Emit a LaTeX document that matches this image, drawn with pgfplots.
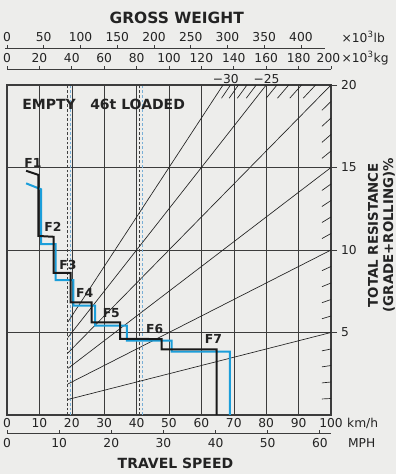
\documentclass[border=0pt]{standalone}
\usepackage{fontspec}
\setmainfont{DejaVu Sans}
\usepackage{pgfplots}
\pgfplotsset{compat=1.18}
\definecolor{bg}{RGB}{237,237,235}
\definecolor{cblue}{RGB}{27,158,218}
\definecolor{lblue}{RGB}{120,175,215}
\definecolor{gridc}{RGB}{60,60,60}
\definecolor{txt}{RGB}{35,35,35}
\newcommand{\tl}{\fontsize{9.2}{10}\selectfont}
\newcommand{\hd}{\fontsize{10.5}{12}\selectfont\bfseries}
\begin{document}
\begin{tikzpicture}
\path[use as bounding box, fill=bg] (0,0) rectangle (297pt,355.5pt);
\begin{axis}[
  at={(5.25pt,44.25pt)}, anchor=south west,
  scale only axis, width=243pt, height=247.5pt,
  xmin=0, xmax=100, ymin=0, ymax=20,
  clip=false,
  axis line style={gridc, line width=0.8pt},
  xtick={0,10,20,30,40,50,60,70,80,90,100}, xtick pos=bottom,
  x tick style={draw=none},
  ytick={5,10,15,20}, ytick pos=right, yticklabel pos=right,
  y tick style={gridc, line width=0.6pt},
  tick align=outside, major tick length=4.5pt,
  grid=major, major grid style={gridc, line width=0.45pt},
  ticklabel style={font=\tl, text=txt},
  xticklabel style={yshift=5.5pt},
  yticklabel style={xshift=-0.5pt},
  /pgf/number format/assume math mode=true,
]
% empty / loaded dashed lines
\addplot[black!75, line width=0.6pt, dash pattern=on 2pt off 1.5pt] coordinates {(18.7,0) (18.7,20)};
\addplot[lblue, line width=0.6pt, dash pattern=on 2pt off 1.5pt] coordinates {(19.6,0) (19.6,20)};
\addplot[black!75, line width=0.6pt, dash pattern=on 2pt off 1.5pt] coordinates {(40.8,0) (40.8,20)};
\addplot[lblue, line width=0.6pt, dash pattern=on 2pt off 1.5pt] coordinates {(41.7,0) (41.7,20)};
% resistance rays
\addplot[txt, line width=0.5pt] coordinates {(18.8,0.94) (100,5)};
\addplot[txt, line width=0.5pt] coordinates {(18.8,1.88) (100,10)};
\addplot[txt, line width=0.5pt] coordinates {(18.8,2.82) (100,15)};
\addplot[txt, line width=0.5pt] coordinates {(18.8,3.76) (100,20)};
\addplot[txt, line width=0.5pt] coordinates {(18.8,4.70) (80,20)};
\addplot[txt, line width=0.5pt] coordinates {(18.8,5.64) (66.67,20)};
% hatches on right edge
\addplot[txt, line width=0.5pt, unbounded coords=jump] coordinates {
(97.2,0.972)(100,1)(nan,nan)
(97.2,1.944)(100,2)(nan,nan)
(97.2,2.916)(100,3)(nan,nan)
(97.2,3.888)(100,4)(nan,nan)
(97.2,5.832)(100,6)(nan,nan)
(97.2,6.804)(100,7)(nan,nan)
(97.2,7.776)(100,8)(nan,nan)
(97.2,8.748)(100,9)(nan,nan)
(97.2,10.692)(100,11)(nan,nan)
(97.2,11.664)(100,12)(nan,nan)
(97.2,12.636)(100,13)(nan,nan)
(97.2,13.608)(100,14)(nan,nan)
(97.2,15.552)(100,16)(nan,nan)
(97.2,16.524)(100,17)(nan,nan)
(97.2,17.496)(100,18)(nan,nan)
(97.2,18.468)(100,19)};
% hatches on top edge
\addplot[txt, line width=0.5pt, unbounded coords=jump] coordinates {
(91.43,19.2)(95.24,20)(nan,nan)
(87.27,19.2)(90.91,20)(nan,nan)
(83.48,19.2)(86.96,20)(nan,nan)
(80.00,19.2)(83.33,20)(nan,nan)
(73.85,19.2)(76.92,20)(nan,nan)
(71.11,19.2)(74.07,20)(nan,nan)
(68.57,19.2)(71.43,20)(nan,nan)
(66.21,19.2)(68.97,20)};
% travel curves
\addplot[cblue, line width=1.5pt] coordinates {
(5.9,14.04) (10.5,13.68) (10.5,10.36) (15.0,10.36) (15.0,8.18) (20.5,8.18) (20.5,6.63)
(27.2,6.63) (27.2,5.41) (37.0,5.41) (37.0,4.50) (50.8,4.50) (50.8,3.84) (68.8,3.84) (68.8,0)};
\addplot[black!90, line width=1.5pt] coordinates {
(5.9,14.80) (9.7,14.55) (9.7,10.85) (14.4,10.80) (14.4,8.62) (19.65,8.62) (19.65,6.83)
(26.1,6.83) (26.1,5.62) (34.9,5.62) (34.9,4.62) (47.7,4.60) (47.7,3.98) (64.7,3.98) (64.7,0)};
% MPH scale
\addplot[gridc, line width=0.6pt, unbounded coords=jump] coordinates {
(0,-1.09)(100,-1.09)(nan,nan)
(0,-1.09)(0,-0.88)(nan,nan)
(16.09,-1.09)(16.09,-0.88)(nan,nan)
(32.19,-1.09)(32.19,-0.88)(nan,nan)
(48.28,-1.09)(48.28,-0.88)(nan,nan)
(64.37,-1.09)(64.37,-0.88)(nan,nan)
(80.47,-1.09)(80.47,-0.88)(nan,nan)
(96.56,-1.09)(96.56,-0.88)};
% kg scale
\addplot[gridc, line width=0.6pt, unbounded coords=jump] coordinates {
(0,20.95)(100,20.95)(nan,nan)
(0,20.95)(0,21.17)(nan,nan)
(10,20.95)(10,21.17)(nan,nan)
(20,20.95)(20,21.17)(nan,nan)
(30,20.95)(30,21.17)(nan,nan)
(40,20.95)(40,21.17)(nan,nan)
(50,20.95)(50,21.17)(nan,nan)
(60,20.95)(60,21.17)(nan,nan)
(70,20.95)(70,21.17)(nan,nan)
(80,20.95)(80,21.17)(nan,nan)
(90,20.95)(90,21.17)(nan,nan)
(100,20.95)(100,21.17)};
% lb scale
\addplot[gridc, line width=0.6pt, unbounded coords=jump] coordinates {
(-0.6,22.22)(98.1,22.22)(nan,nan)
(0,22.22)(0,22.44)(nan,nan)
(11.34,22.22)(11.34,22.44)(nan,nan)
(22.68,22.22)(22.68,22.44)(nan,nan)
(34.02,22.22)(34.02,22.44)(nan,nan)
(45.36,22.22)(45.36,22.44)(nan,nan)
(56.70,22.22)(56.70,22.44)(nan,nan)
(68.04,22.22)(68.04,22.44)(nan,nan)
(79.38,22.22)(79.38,22.44)(nan,nan)
(90.72,22.22)(90.72,22.44)};
% gear labels
\node[font=\fontsize{9.3}{10}\selectfont\bfseries, text=txt] at (axis cs:8.0,15.30) {F1};
\node[font=\fontsize{9.3}{10}\selectfont\bfseries, text=txt] at (axis cs:14.2,11.41) {F2};
\node[font=\fontsize{9.3}{10}\selectfont\bfseries, text=txt] at (axis cs:18.8,9.09) {F3};
\node[font=\fontsize{9.3}{10}\selectfont\bfseries, text=txt] at (axis cs:24.0,7.42) {F4};
\node[font=\fontsize{9.3}{10}\selectfont\bfseries, text=txt] at (axis cs:32.2,6.16) {F5};
\node[font=\fontsize{9.3}{10}\selectfont\bfseries, text=txt] at (axis cs:45.6,5.23) {F6};
\node[font=\fontsize{9.3}{10}\selectfont\bfseries, text=txt] at (axis cs:63.7,4.59) {F7};
\node[font=\hd, text=txt] at (axis cs:13.0,18.85) {EMPTY};
\node[font=\hd, text=txt] at (axis cs:40.3,18.85) {46t LOADED};
% ray labels at top
\node[font=\tl, text=txt] at (axis cs:67.5,20.35) {\textminus30};
\node[font=\tl, text=txt] at (axis cs:80.1,20.35) {\textminus25};
% bottom extra labels
\node[font=\tl, text=txt, anchor=west, inner sep=0pt] at (axis cs:104.9,-0.50) {km/h};
\node[font=\tl, text=txt] at (axis cs:0,-1.72) {0};
\node[font=\tl, text=txt] at (axis cs:16.09,-1.72) {10};
\node[font=\tl, text=txt] at (axis cs:32.19,-1.72) {20};
\node[font=\tl, text=txt] at (axis cs:48.28,-1.72) {30};
\node[font=\tl, text=txt] at (axis cs:64.37,-1.72) {40};
\node[font=\tl, text=txt] at (axis cs:80.47,-1.72) {50};
\node[font=\tl, text=txt] at (axis cs:96.56,-1.72) {60};
\node[font=\tl, text=txt, anchor=west, inner sep=0pt] at (axis cs:105.2,-1.72) {MPH};
\node[font=\hd, text=txt] at (axis cs:52.0,-2.92) {TRAVEL SPEED};
% kg labels
\node[font=\tl, text=txt] at (axis cs:0,21.62) {0};
\node[font=\tl, text=txt] at (axis cs:10,21.62) {20};
\node[font=\tl, text=txt] at (axis cs:20,21.62) {40};
\node[font=\tl, text=txt] at (axis cs:30,21.62) {60};
\node[font=\tl, text=txt] at (axis cs:40,21.62) {80};
\node[font=\tl, text=txt] at (axis cs:50,21.62) {100};
\node[font=\tl, text=txt] at (axis cs:60,21.62) {120};
\node[font=\tl, text=txt] at (axis cs:70,21.62) {140};
\node[font=\tl, text=txt] at (axis cs:80,21.62) {160};
\node[font=\tl, text=txt] at (axis cs:90,21.62) {180};
\node[font=\tl, text=txt] at (axis cs:99.2,21.62) {200};
\node[font=\tl, text=txt, anchor=west, inner sep=0pt] at (axis cs:103.2,21.62) {×10\textsuperscript{3}kg};
% lb labels
\node[font=\tl, text=txt] at (axis cs:0,22.93) {0};
\node[font=\tl, text=txt] at (axis cs:11.34,22.93) {50};
\node[font=\tl, text=txt] at (axis cs:22.68,22.93) {100};
\node[font=\tl, text=txt] at (axis cs:34.02,22.93) {150};
\node[font=\tl, text=txt] at (axis cs:45.36,22.93) {200};
\node[font=\tl, text=txt] at (axis cs:56.70,22.93) {250};
\node[font=\tl, text=txt] at (axis cs:68.04,22.93) {300};
\node[font=\tl, text=txt] at (axis cs:79.38,22.93) {350};
\node[font=\tl, text=txt] at (axis cs:90.72,22.93) {400};
\node[font=\tl, text=txt, anchor=west, inner sep=0pt] at (axis cs:103.2,22.93) {×10\textsuperscript{3}lb};
\node[font=\fontsize{11.6}{13}\selectfont\bfseries, text=txt] at (axis cs:52.4,24.04) {GROSS WEIGHT};
% right label
\node[font=\fontsize{10}{12}\selectfont\bfseries, text=txt, rotate=90] at (axis cs:113.0,10.9) {TOTAL RESISTANCE};
\node[font=\fontsize{10}{12}\selectfont\bfseries, text=txt, rotate=90] at (axis cs:117.9,10.9) {(GRADE+ROLLING)\%};
\end{axis}
\end{tikzpicture}
\end{document}
